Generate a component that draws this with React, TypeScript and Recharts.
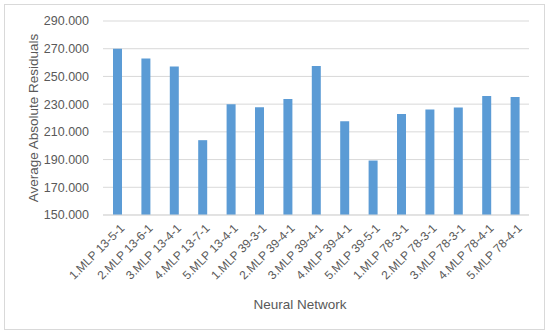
import { BarChart, Bar, XAxis, YAxis, CartesianGrid } from 'recharts';

const networks = [
  '1.MLP 13-5-1',
  '2.MLP 13-6-1',
  '3.MLP 13-4-1',
  '4.MLP 13-7-1',
  '5.MLP 13-4-1',
  '1.MLP 39-3-1',
  '2.MLP 39-4-1',
  '3.MLP 39-4-1',
  '4.MLP 39-4-1',
  '5.MLP 39-5-1',
  '1.MLP 78-3-1',
  '2.MLP 78-3-1',
  '3.MLP 78-3-1',
  '4.MLP 78-4-1',
  '5.MLP 78-4-1',
];
const residuals = [270, 263, 257.2, 204, 230, 227.8, 233.8, 257.6, 217.6, 189.3, 222.9, 226.2, 227.6, 235.8, 235.2];
const yTicks = [150, 170, 190, 210, 230, 250, 270, 290];

const data = networks.map((name, i) => ({ name, value: residuals[i] }));

const textColor = '#595959';

function SlantTick({ x, y, payload }: any) {
  return (
    <g transform={`translate(${x + 5},${y})`}>
      <text x={0} y={0} dy="0.35em" textAnchor="end" fill={textColor} fontSize={12} transform="rotate(-45)">
        {payload.value}
      </text>
    </g>
  );
}

export default function App() {
  return (
    <div style={{ position: 'absolute', left: 0, top: 0, width: 550, height: 333, background: '#fff', fontFamily: '"Liberation Sans", Arial, sans-serif' }}>
      <div style={{ position: 'absolute', left: 4, top: 4, width: 539, height: 324, border: '1px solid #d9d9d9' }} />
      <div style={{ position: 'absolute', left: 0, top: 0 }}>
        <BarChart width={550} height={333} data={data} margin={{ top: 21, right: 21, bottom: 0, left: 0 }}>
          <CartesianGrid vertical={false} stroke="#d9d9d9" />
          <XAxis
            dataKey="name"
            height={118}
            interval={0}
            tickLine={false}
            axisLine={{ stroke: '#d9d9d9' }}
            tick={<SlantTick />}
            tickSize={0}
            tickMargin={11}
            label={{ value: 'Neural Network', position: 'insideBottom', offset: 24, dx: -16, fill: textColor, fontSize: 13.5 }}
          />
          <YAxis
            width={103}
            domain={[150, 290]}
            ticks={yTicks}
            tickFormatter={(v: number) => v.toFixed(3)}
            tick={{ fill: textColor, fontSize: 12.5 }}
            tickLine={false}
            axisLine={false}
            tickSize={0}
            tickMargin={14}
            label={{ value: 'Average Absolute Residuals', angle: -90, position: 'insideLeft', offset: 33, fill: textColor, fontSize: 13.5, style: { textAnchor: 'middle' } }}
          />
          <Bar dataKey="value" fill="#5b9bd5" barSize={9} isAnimationActive={false} />
        </BarChart>
      </div>
    </div>
  );
}
